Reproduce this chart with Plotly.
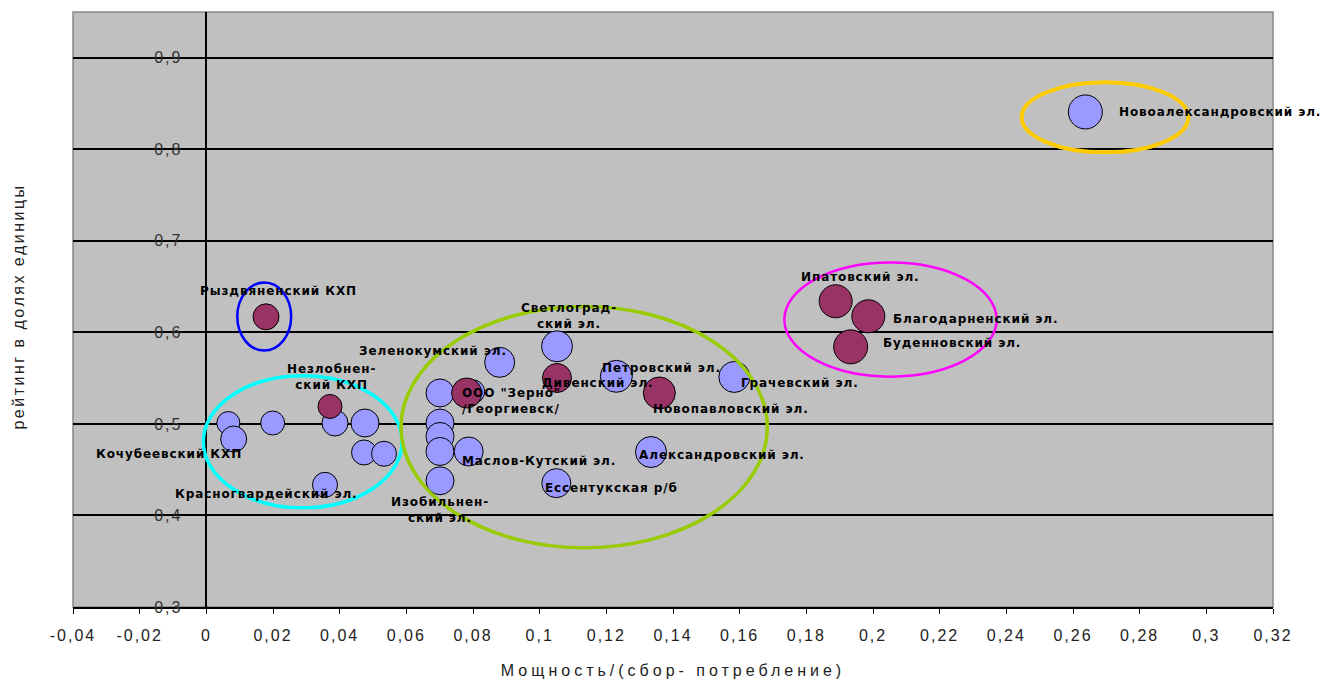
import plotly.graph_objects as go

# ---- data ----
blue_x = [0.0066, 0.0082, 0.0199, 0.0386, 0.0476, 0.0473, 0.0533, 0.0356,
          0.0701, 0.0799, 0.0701, 0.0701, 0.0701, 0.0787, 0.0701,
          0.0880, 0.1052, 0.1050, 0.1230, 0.1334, 0.1584, 0.2637]
blue_y = [0.501, 0.4835, 0.501, 0.501, 0.501, 0.4688, 0.4674, 0.4335,
          0.5338, 0.5352, 0.501, 0.4863, 0.4699, 0.4699, 0.4379,
          0.5673, 0.5848, 0.4353, 0.552, 0.4693, 0.5513, 0.8408]
blue_size = [23, 26, 24, 26, 28, 25, 25, 25,
             28, 24, 28, 28, 28, 29, 28,
             30, 31, 29, 32, 31, 31, 34]

red_x = [0.0179, 0.0371, 0.0781, 0.1052, 0.1359, 0.1888, 0.1986, 0.1933]
red_y = [0.617, 0.5191, 0.5338, 0.5502, 0.5338, 0.634, 0.6176, 0.5842]
red_size = [26, 24, 30, 29, 32, 33, 33, 34]

label_texts = ["Рыздвяненский КХП", "Незлобнен-<br>ский КХП", "Зеленокумский эл.",
               "Светлоград-<br>ский эл.", "ООО \"Зерно\"<br>/Георгиевск/", "Дивенский эл.",
               "Петровский эл.", "Грачевский эл.", "Новопавловский эл.",
               "Александровский эл.", "Маслов-Кутский эл.", "Ессентукская р/б",
               "Изобильнен-<br>ский эл.", "Кочубеевский КХП", "Красногвардейский эл.",
               "Ипатовский эл.", "Благодарненский эл.", "Буденновский эл.",
               "Новоалександровский эл."]

x_tick_vals = [-0.04, -0.02, 0, 0.02, 0.04, 0.06, 0.08, 0.1, 0.12, 0.14, 0.16,
               0.18, 0.2, 0.22, 0.24, 0.26, 0.28, 0.3, 0.32]
x_tick_text = ["-0,04", "-0,02", "0", "0,02", "0,04", "0,06", "0,08", "0,1", "0,12",
               "0,14", "0,16", "0,18", "0,2", "0,22", "0,24", "0,26", "0,28", "0,3", "0,32"]
y_tick_vals = [0.3, 0.4, 0.5, 0.6, 0.7, 0.8, 0.9]
y_tick_text = ["0,3", "0,4", "0,5", "0,6", "0,7", "0,8", "0,9"]

x_title = "Мощность/(сбор- потребление)"
y_title = "рейтинг в долях единицы"


def spaced(txt, px):
    parts = txt.split("<br>")
    return "<br>".join('<span style="letter-spacing:%spx">%s</span>' % (px, p) for p in parts)


# ---- label placement (x, y, xanchor) ----
label_pos = [
    (0.0216, 0.6457, "center"), (0.0374, 0.5516, "center"), (0.0452, 0.5801, "left"),
    (0.1087, 0.6184, "center"), (0.0760, 0.5254, "left"), (0.1000, 0.5451, "left"),
    (0.1180, 0.5615, "left"), (0.1599, 0.5451, "left"), (0.1335, 0.5166, "left"),
    (0.1293, 0.4663, "left"), (0.0760, 0.4597, "left"), (0.1009, 0.4302, "left"),
    (0.0701, 0.4061, "center"), (-0.0338, 0.4674, "left"), (-0.0099, 0.4236, "left"),
    (0.1778, 0.6610, "left"), (0.2054, 0.6151, "left"), (0.2024, 0.5888, "left"),
    (0.2731, 0.8405, "left"),
]

fig = go.Figure()
fig.add_trace(go.Scatter(
    x=blue_x, y=blue_y, mode="markers",
    marker=dict(size=blue_size, sizemode="diameter", color="#9999FF", opacity=1,
                line=dict(color="black", width=1)),
    showlegend=False, cliponaxis=False, hoverinfo="x+y"))
fig.add_trace(go.Scatter(
    x=red_x, y=red_y, mode="markers",
    marker=dict(size=red_size, sizemode="diameter", color="#993366", opacity=1,
                line=dict(color="black", width=1)),
    showlegend=False, cliponaxis=False, hoverinfo="x+y"))

label_font = dict(family="DejaVu Sans", size=12, color="black", weight="bold")
for txt, (lx, ly, anc) in zip(label_texts, label_pos):
    fig.add_annotation(x=lx, y=ly, xref="x", yref="y", text=spaced(txt, 0.9), showarrow=False,
                       xanchor=anc, yanchor="middle", align=anc, font=label_font)

# y-axis title
fig.add_annotation(x=-0.045, y=0.505, xref="paper", yref="paper", text=spaced(y_title, 2.5),
                   textangle=-90, showarrow=False, xanchor="center", yanchor="middle",
                   font=dict(family="Liberation Sans", size=16, color="#222"))

# ellipses
ellipses = [
    (0.00928, 0.5801, 0.02545, 0.6545, "#0000FF", 2.5),
    (-0.0009, 0.4083, 0.0587, 0.5527, "#00FFFF", 3.5),
    (0.0584, 0.3646, 0.1683, 0.6282, "#99CC00", 3.5),
    (0.1734, 0.5516, 0.2371, 0.6764, "#FF00FF", 2.5),
    (0.2446, 0.7967, 0.2946, 0.8733, "#FFCC00", 4),
]
for x0, y0, x1, y1, col, w in ellipses:
    fig.add_shape(type="circle", xref="x", yref="y", x0=x0, y0=y0, x1=x1, y1=y1,
                  line=dict(color=col, width=w), layer="above")

# plot border
fig.add_shape(type="rect", xref="paper", yref="paper", x0=0, y0=0, x1=1, y1=1,
              line=dict(color="#888888", width=1.5), layer="below")

fig.update_layout(
    width=1344, height=679,
    margin=dict(l=73, r=71, t=12, b=72),
    paper_bgcolor="white", plot_bgcolor="#C0C0C0",
    showlegend=False,
    font=dict(family="Liberation Sans", size=16, color="#222"),
    xaxis=dict(range=[-0.04, 0.32], tickvals=x_tick_vals,
               ticktext=[spaced(t, 2) for t in x_tick_text],
               showgrid=False, zeroline=False, showline=True, linecolor="black",
               linewidth=1.5, ticks="outside", ticklen=5, tickcolor="black",
               ticklabelstandoff=8, automargin=False,
               tickfont=dict(family="Liberation Sans", size=16, color="#222"),
               title=dict(text=spaced(x_title, 4), standoff=24,
                          font=dict(family="Liberation Sans", size=16, color="#222"))),
    yaxis=dict(range=[0.3, 0.95], tickvals=y_tick_vals,
               ticktext=[spaced(t, 2) for t in y_tick_text],
               anchor="free", position=0.04 / 0.36, automargin=False,
               showgrid=True, gridcolor="black", gridwidth=1.5,
               zeroline=False, showline=True, linecolor="black", linewidth=1.5,
               ticks="", ticklabelstandoff=20,
               tickfont=dict(family="Liberation Sans", size=16, color="#333")),
)

fig.write_html("out.html", post_script="document.body.style.margin='0px';",
               config={"displayModeBar": False})
